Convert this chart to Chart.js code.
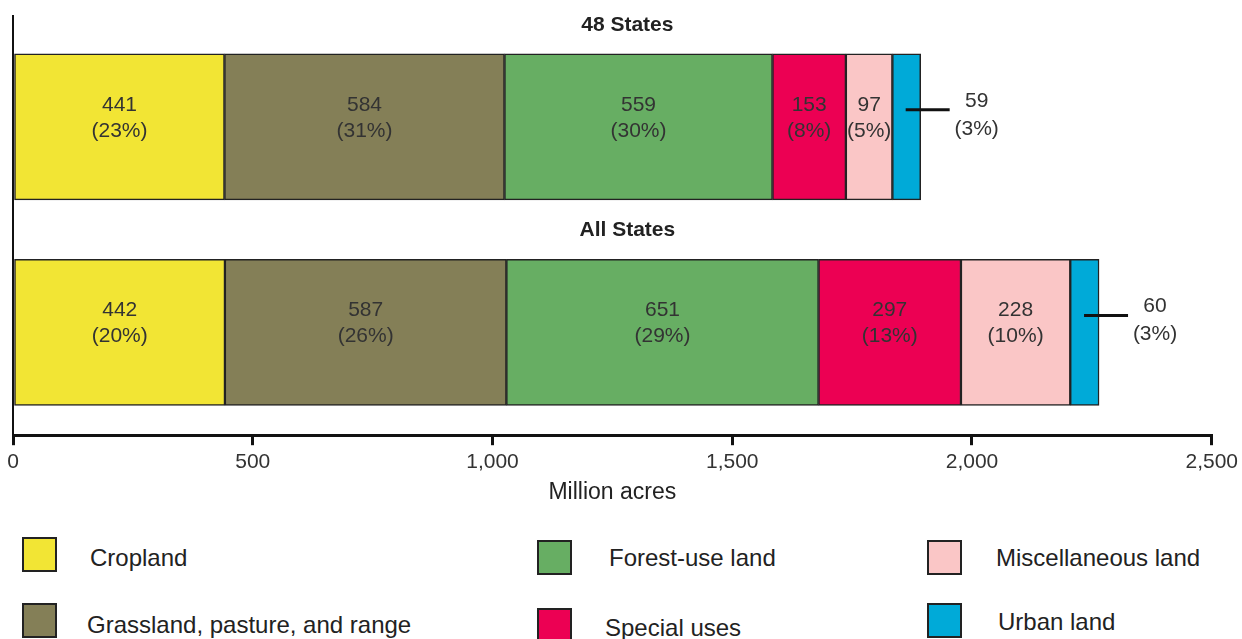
<!DOCTYPE html>
<html>
<head>
<meta charset="utf-8">
<script src="https://cdn.jsdelivr.net/npm/chart.js@4/dist/chart.umd.min.js"></script>
<style>
  body { margin: 0; background: #fff; font-family: "Liberation Sans", Arial, sans-serif; }
  #wrap { position: relative; width: 1242px; height: 639px; overflow: hidden; }
  #chartBox { position: absolute; left: 0; top: 0; width: 1242px; height: 506px; }
  .sw { position: absolute; width: 35px; height: 35px; border: 2px solid #222; box-sizing: border-box; }
  .txt { position: absolute; font-size: 24px; color: #222; line-height: 30px; white-space: nowrap; }
</style>
</head>
<body>
<div id="wrap">
  <div id="chartBox"><canvas id="c"></canvas></div>
  <div id="legend"></div>
</div>
<script>
// categorias y valores (millones de acres)
const regiones = ['48 States', 'All States']
const usos = ['Cropland', 'Grassland, pasture, and range', 'Forest-use land', 'Special uses', 'Miscellaneous land', 'Urban land']
const colores = ['#f2e534', '#847f57', '#67ae63', '#ec0053', '#fac6c6', '#00aad8']
const valores48 = [441, 584, 559, 153, 97, 59]
const valoresAll = [442, 587, 651, 297, 228, 60]
const pct48 = [23, 31, 30, 8, 5, 3]
const pctAll = [20, 26, 29, 13, 10, 3]
const ticksX = [0, 500, 1000, 1500, 2000, 2500]

const valores = [valores48, valoresAll]
const pcts = [pct48, pctAll]
const fuente = '"Liberation Sans", Arial, sans-serif'

// Dibuja etiquetas dentro de las barras, titulos y anotacion de urban land
const etiquetas = {
  id: 'etiquetas',
  afterDatasetsDraw(chart) {
    const ctx = chart.ctx
    ctx.save()
    ctx.font = '21px ' + fuente
    ctx.textAlign = 'center'
    ctx.textBaseline = 'middle'
    chart.data.datasets.forEach((ds, i) => {
      const meta = chart.getDatasetMeta(i)
      meta.data.forEach((bar, j) => {
        const v = valores[j][i]
        const p = pcts[j][i]
        ctx.fillStyle = '#333'
        if (i === usos.length - 1) {
          // anotacion fuera de la barra
          ctx.strokeStyle = '#111'
          ctx.lineWidth = 3
          ctx.beginPath()
          ctx.moveTo(bar.x - 15, bar.y - 17)
          ctx.lineTo(bar.x + 29, bar.y - 17)
          ctx.stroke()
          ctx.fillText(String(v), bar.x + 56, bar.y - 26)
          ctx.fillText('(' + p + '%)', bar.x + 56, bar.y + 2)
        } else {
          ctx.fillText(String(v), (bar.x + bar.base) / 2, bar.y - 22)
          ctx.fillText('(' + p + '%)', (bar.x + bar.base) / 2, bar.y + 4)
        }
      })
    })
    // titulos encima de cada barra
    const yScale = chart.scales.y
    ctx.font = 'bold 21px ' + fuente
    ctx.fillStyle = '#222'
    const cx = (chart.chartArea.left + chart.chartArea.right) / 2
    regiones.forEach((r, j) => {
      const y = yScale.getPixelForValue(j)
      ctx.fillText(r, cx + 15, y - 102)
    })
    // extension del eje y hacia arriba
    ctx.strokeStyle = '#111'
    ctx.lineWidth = 2
    ctx.beginPath()
    ctx.moveTo(chart.chartArea.left, 15)
    ctx.lineTo(chart.chartArea.left, chart.chartArea.top)
    ctx.stroke()
    ctx.restore()
  }
}

new Chart(document.getElementById('c'), {
  type: 'bar',
  data: {
    labels: regiones,
    datasets: usos.map((u, i) => ({
      label: u,
      data: valores.map(arr => arr[i]),
      backgroundColor: colores[i],
      borderColor: '#222',
      borderWidth: 1.5,
      borderSkipped: false,
      barThickness: 146
    }))
  },
  options: {
    indexAxis: 'y',
    responsive: true,
    maintainAspectRatio: false,
    animation: false,
    layout: { padding: { left: 13, right: 29, top: 24, bottom: 0 } },
    plugins: {
      legend: { display: false },
      tooltip: { enabled: false }
    },
    scales: {
      x: {
        stacked: true,
        min: 0,
        max: 2500,
        afterBuildTicks: axis => { axis.ticks = ticksX.map(v => ({ value: v })) },
        grid: { drawOnChartArea: false, color: '#111', lineWidth: 3, tickLength: 10 },
        border: { color: '#111', width: 3 },
        ticks: {
          color: '#333',
          font: { size: 21, family: fuente },
          padding: 4,
          callback: v => v.toLocaleString('en-US')
        },
        title: {
          display: true,
          text: 'Million acres',
          color: '#222',
          font: { size: 23, family: fuente },
          padding: { top: 0, bottom: 0 }
        }
      },
      y: {
        stacked: true,
        afterFit: axis => { axis.width = 0 },
        grid: { display: false },
        border: { color: '#111', width: 2 },
        ticks: { display: false }
      }
    }
  },
  plugins: [etiquetas]
})

// Leyenda en HTML: cuadro (x, y) y texto (x, centro y)
const cuadros = [[22, 537], [22, 603], [537, 540], [537, 608], [927, 540], [927, 603]]
const textos = [[90, 558], [87, 625], [609, 558], [605, 628], [996, 558], [998, 622]]
const leyenda = document.getElementById('legend')
usos.forEach((u, i) => {
  const s = document.createElement('div')
  s.className = 'sw'
  s.style.left = cuadros[i][0] + 'px'
  s.style.top = cuadros[i][1] + 'px'
  s.style.background = colores[i]
  leyenda.appendChild(s)
  const t = document.createElement('div')
  t.className = 'txt'
  t.style.left = textos[i][0] + 'px'
  t.style.top = (textos[i][1] - 15) + 'px'
  t.textContent = u
  leyenda.appendChild(t)
})
</script>
</body>
</html>
